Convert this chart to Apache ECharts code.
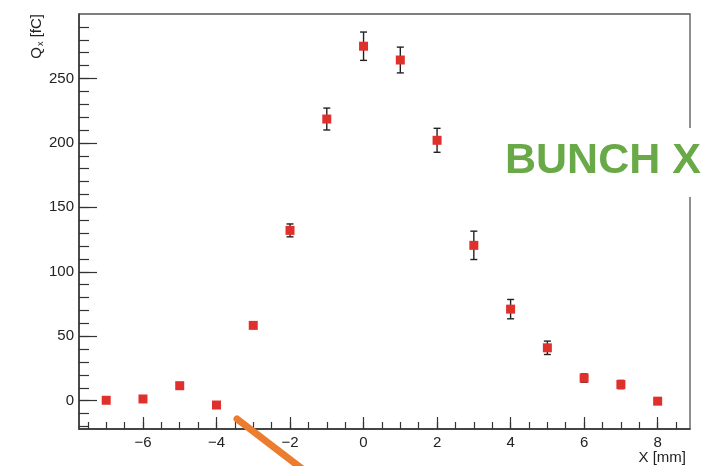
<!DOCTYPE html>
<html>
<head>
<meta charset="utf-8">
<script src="https://cdn.jsdelivr.net/npm/echarts@6/dist/echarts.min.js"></script>
<style>
html,body{margin:0;padding:0;background:#fff;}
#c{width:728px;height:466px;}
</style>
</head>
<body>
<div id="c"></div>
<script>
// ---- data ----
const xPos   = [-7, -6, -5, -4, -3, -2, -1, 0, 1, 2, 3, 4, 5, 6, 7, 8];
const qVals  = [0.3, 1.3, 11.6, -3.4, 58.4, 132.1, 218.5, 275, 264.3, 202, 120.5, 71, 41, 17.5, 12.5, -0.4];
const qErr   = [0, 0, 0, 0, 2, 5, 8.5, 11, 10, 9.3, 11, 7.5, 5.2, 3.2, 3.2, 0];
const xMajorTicks = [-6, -4, -2, 0, 2, 4, 6, 8];
const xMinorTicks = [-7.5, -7, -6.5, -6, -5.5, -5, -4.5, -4, -3.5, -3, -2.5, -2, -1.5, -1, -0.5, 0, 0.5, 1, 1.5, 2, 2.5, 3, 3.5, 4, 4.5, 5, 5.5, 6, 6.5, 7, 7.5, 8, 8.5];
const yMajorTicks = [0, 50, 100, 150, 200, 250];
const yMinorTicks = [-20, -10, 0, 10, 20, 30, 40, 50, 60, 70, 80, 90, 100, 110, 120, 130, 140, 150, 160, 170, 180, 190, 200, 210, 220, 230, 240, 250, 260, 270, 280, 290];
const xRange = [-7.74, 8.88];
const yRange = [-22, 300];

const FONT = 'Liberation Sans, Arial, Helvetica, sans-serif';
const AX = '#333';
const fmt = v => String(v).replace('-', '\u2212');

const points = xPos.map((x, i) => [x, qVals[i]]);
const errs = xPos.map((x, i) => [x, qVals[i], qErr[i]]);

const gridPos = {left: 79, top: 14, right: 38, bottom: 37};

const chart = echarts.init(document.getElementById('c'), null, {renderer: 'canvas'});
chart.setOption({
  animation: false,
  backgroundColor: '#fff',
  grid: [
    Object.assign({show: true, borderColor: '#555', borderWidth: 1.3, backgroundColor: 'transparent'}, gridPos),
    Object.assign({show: false}, gridPos)
  ],
  xAxis: [
    {
      type: 'value', gridIndex: 0, min: xRange[0], max: xRange[1], position: 'bottom',
      axisLine: {show: true, onZero: false, lineStyle: {color: AX, width: 1.5}},
      axisTick: {show: true, inside: true, length: 12, customValues: xMajorTicks, lineStyle: {color: AX, width: 1.2}},
      axisLabel: {show: true, customValues: xMajorTicks, formatter: fmt, margin: 6, fontSize: 15, color: '#222', fontFamily: FONT},
      splitLine: {show: false}
    },
    {
      type: 'value', gridIndex: 1, min: xRange[0], max: xRange[1], position: 'bottom',
      axisLine: {show: false, onZero: false},
      axisTick: {show: true, inside: true, length: 7, customValues: xMinorTicks, lineStyle: {color: AX, width: 1.2}},
      axisLabel: {show: false},
      splitLine: {show: false}
    }
  ],
  yAxis: [
    {
      type: 'value', gridIndex: 0, min: yRange[0], max: yRange[1], position: 'left',
      axisLine: {show: true, onZero: false, lineStyle: {color: AX, width: 1.5}},
      axisTick: {show: true, inside: true, length: 18, customValues: yMajorTicks, lineStyle: {color: AX, width: 1.2}},
      axisLabel: {show: true, customValues: yMajorTicks, formatter: fmt, margin: 5, fontSize: 15, color: '#222', fontFamily: FONT},
      splitLine: {show: false}
    },
    {
      type: 'value', gridIndex: 1, min: yRange[0], max: yRange[1], position: 'left',
      axisLine: {show: false, onZero: false},
      axisTick: {show: true, inside: true, length: 10, customValues: yMinorTicks, lineStyle: {color: AX, width: 1.2}},
      axisLabel: {show: false},
      splitLine: {show: false}
    }
  ],
  series: [
    {
      type: 'custom', xAxisIndex: 0, yAxisIndex: 0, z: 2,
      data: errs,
      renderItem: function (params, api) {
        const x = api.value(0), y = api.value(1), e = api.value(2);
        if (!e) return null;
        const top = api.coord([x, y + e]);
        const bot = api.coord([x, y - e]);
        const cw = 3.5;
        const st = {stroke: '#222', lineWidth: 1.4};
        return {
          type: 'group',
          children: [
            {type: 'line', shape: {x1: top[0], y1: top[1], x2: bot[0], y2: bot[1]}, style: st},
            {type: 'line', shape: {x1: top[0] - cw, y1: top[1], x2: top[0] + cw, y2: top[1]}, style: st},
            {type: 'line', shape: {x1: bot[0] - cw, y1: bot[1], x2: bot[0] + cw, y2: bot[1]}, style: st}
          ]
        };
      }
    },
    {
      type: 'scatter', xAxisIndex: 0, yAxisIndex: 0, z: 3,
      symbol: 'rect', symbolSize: 9,
      itemStyle: {color: '#e0302c', opacity: 1},
      data: points
    }
  ],
  graphic: [
    {
      type: 'text', x: 37, y: 14, rotation: Math.PI / 2,
      style: {
        text: '{q|Q}{s|x}{q| [fC]}',
        align: 'right', verticalAlign: 'middle',
        rich: {
          q: {fontSize: 15, fontFamily: FONT, fill: '#222', verticalAlign: 'middle'},
          s: {fontSize: 9, fontFamily: FONT, fill: '#222', padding: [8, 0, 0, 1]}
        }
      }
    },
    {
      type: 'text', x: 686, y: 458,
      style: {text: 'X [mm]', align: 'right', verticalAlign: 'middle', fontSize: 15, fontFamily: FONT, fill: '#222'}
    },
    {
      type: 'rect', z: 100,
      shape: {x: 500, y: 128, width: 228, height: 69},
      style: {fill: '#fff'}
    },
    {
      type: 'text', z: 101, x: 505, y: 161,
      style: {text: 'BUNCH X', align: 'left', verticalAlign: 'middle', fontSize: 43, fontWeight: 'bold', fontFamily: FONT, fill: '#69a947'}
    },
    {
      type: 'line', z: 102,
      shape: {x1: 237, y1: 419, x2: 305, y2: 471},
      style: {stroke: '#ec7c2e', lineWidth: 7, lineCap: 'round'}
    }
  ]
});
</script>
</body>
</html>
